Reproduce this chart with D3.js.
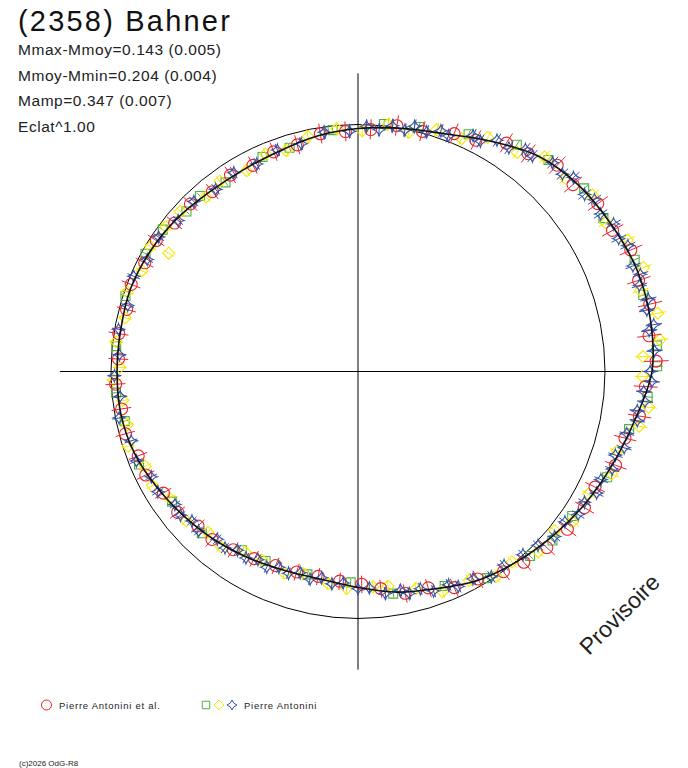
<!DOCTYPE html>
<html>
<head>
<meta charset="utf-8">
<script src="https://cdn.jsdelivr.net/npm/d3@7"></script>
<style>
  body { margin: 0; background: #fff; }
  svg { display: block; font-family: "Liberation Sans", Arial, sans-serif; }
</style>
</head>
<body>
<svg id="chart" width="688" height="768"></svg>
<script>
// rotation phase in degrees, magnitude relative to Mmoy
var fitDeg = [0,10,20,30,40,50,60,70,80,90,100,110,120,130,140,150,160,170,180,190,200,210,220,230,240,250,260,270,280,290,300,310,320,330,340,350];
var fitMag = [0.018,0.000,-0.026,-0.080,-0.140,-0.170,-0.185,-0.200,-0.200,-0.189,-0.140,-0.101,-0.068,-0.035,-0.004,0.027,0.073,0.106,0.146,0.171,0.166,0.146,0.121,0.096,0.068,0.040,0.027,0.027,0.027,0.022,0.031,0.045,0.063,0.068,0.059,0.036];

// Pierre Antonini et al.
var etalDeg = [3,9,15,22,27,33,38,44,49,55,61,66,72,77,83,88,93,99,104,110,116,121,127,133,139,144,150,156,162,168,174,179,185,191,197,203,209,215,221,226,232,238,244,249,255,261,267,273,279,285,291,297,303,309,315,321,327,333,339,345,351,357];
var etalMag = [0.021,-0.008,-0.007,-0.041,-0.054,-0.106,-0.122,-0.162,-0.155,-0.184,-0.178,-0.206,-0.193,-0.209,-0.186,-0.205,-0.166,-0.155,-0.117,-0.113,-0.071,-0.073,-0.065,-0.048,-0.025,-0.002,0.033,0.047,0.089,0.093,0.134,0.162,0.174,0.183,0.178,0.172,0.156,0.138,0.113,0.114,0.083,0.080,0.049,0.052,0.028,0.034,0.019,0.032,0.021,0.033,0.018,0.034,0.029,0.050,0.045,0.071,0.058,0.071,0.053,0.056,0.028,0.030];

// Pierre Antonini, three sessions
var sqDeg = [6,14,25,35,42,51,58,68,75,85,89,95,102,113,124,131,137,148,158,171,182,194,206,213,224,235,247,258,265,276,288,299,306,313,318,325,336,343,354];
var sqMag = [-0.008,-0.022,-0.063,-0.124,-0.154,-0.178,-0.172,-0.205,-0.194,-0.211,-0.208,-0.177,-0.125,-0.099,-0.049,-0.046,-0.023,0.015,0.071,0.102,0.171,0.181,0.172,0.160,0.102,0.092,0.041,0.038,0.018,0.017,0.011,0.018,0.025,0.056,0.049,0.073,0.055,0.059,0.019];

var diaDeg = [1,7,12,18,24,29,36,41,47,53,59,64,70,74,79,84,87,91,97,101,107,112,118,125,129,135,141,146,152,159,165,172,176,183,188,195,200,207,212,218,223,229,236,241,246,252,257,263,268,271,277,283,289,295,301,302,307,312,319,324,331,337,342,348,355];
var diaMag = [0.028,-0.009,0.010,-0.031,-0.034,-0.087,-0.100,-0.153,-0.149,-0.187,-0.170,-0.211,-0.225,-0.188,-0.230,-0.224,-0.157,-0.154,-0.185,-0.161,-0.101,-0.112,-0.060,-0.064,-0.026,-0.035,0.009,-0.001,0.046,0.050,0.104,0.142,0.146,0.139,0.154,0.179,0.152,0.168,0.161,0.114,0.126,0.089,0.093,0.053,0.064,0.023,0.046,0.045,0.011,0.039,0.015,0.036,0.013,0.038,0.022,0.110,0.029,0.035,0.071,0.053,0.079,0.048,0.066,0.031,0.015];

var starDeg = [2,5,8,11,13,16,19,21,26,28,31,34,37,39,43,46,48,52,54,57,60,63,65,69,71,73,76,78,81,82,86,90,92,94,96,98,100,103,106,108,111,114,117,120,123,126,130,134,138,143,147,151,155,157,161,164,167,169,173,177,180,184,187,190,193,196,199,202,205,208,211,214,217,220,225,228,231,234,239,243,248,253,259,264,269,274,280,286,293,298,304,310,316,322,328,334,340,346,352,358];
var starMag = [0.008,0.019,-0.005,0.005,-0.020,-0.010,-0.033,-0.023,-0.066,-0.059,-0.096,-0.096,-0.129,-0.125,-0.157,-0.152,-0.174,-0.165,-0.183,-0.171,-0.193,-0.184,-0.203,-0.191,-0.206,-0.190,-0.208,-0.194,-0.209,-0.189,-0.201,-0.182,-0.189,-0.161,-0.169,-0.144,-0.150,-0.120,-0.124,-0.099,-0.106,-0.080,-0.088,-0.062,-0.066,-0.038,-0.042,-0.014,0.002,0.019,0.010,0.044,0.044,0.069,0.067,0.096,0.088,0.111,0.108,0.142,0.139,0.166,0.156,0.179,0.160,0.179,0.159,0.170,0.146,0.160,0.138,0.148,0.121,0.131,0.099,0.109,0.085,0.095,0.061,0.068,0.036,0.044,0.016,0.035,0.015,0.035,0.017,0.033,0.015,0.037,0.029,0.055,0.048,0.072,0.057,0.073,0.051,0.055,0.024,0.030];

var statLines = ["Mmax-Mmoy=0.143 (0.005)", "Mmoy-Mmin=0.204 (0.004)", "Mamp=0.347 (0.007)", "Eclat^1.00"];

var svg = d3.select("#chart");
var cx = 358, cy = 371.5, R0 = 247;

var aScale = d3.scaleLinear().domain([0, 360]).range([0, 2 * Math.PI]);
var rScale = d3.scaleLinear().domain([0, 1]).range([0, R0]);   // relative flux -> px
function rad(m) { return rScale(Math.pow(10, -0.4 * m)); }
function pos(deg, m) { return d3.pointRadial(aScale(deg), rad(m)); }

svg.append("rect").attr("width", 688).attr("height", 768).attr("fill", "#fff");

svg.append("text")
    .attr("x", 18).attr("y", 31)
    .attr("font-size", 29).attr("letter-spacing", 2.2).attr("fill", "#111")
    .text("(2358) Bahner");

svg.selectAll(".stat").data(statLines).enter().append("text")
    .attr("class", "stat")
    .attr("x", 18).attr("y", function(d, i) { return 55 + i * 25.5; })
    .attr("font-size", 15.5).attr("letter-spacing", 0.55).attr("fill", "#222")
    .text(function(d) { return d; });

var main = svg.append("g").attr("transform", "translate(" + [cx, cy] + ")");

var L = rScale(1.207);
main.append("line").attr("x1", -L).attr("x2", L).attr("y1", 0).attr("y2", 0)
    .attr("stroke", "#000").attr("stroke-width", 1);
main.append("line").attr("y1", -L).attr("y2", L).attr("x1", 0).attr("x2", 0)
    .attr("stroke", "#000").attr("stroke-width", 1);
main.append("circle").attr("r", rScale(1))
    .attr("fill", "none").attr("stroke", "#000").attr("stroke-width", 1);

// marker shapes
var diamondPath = "M0,-6L6,0L0,6L-6,0Z";
var sqPath = d3.symbol(d3.symbolSquare, 81)();
function starPath(h) {
    var c = h * 0.22;
    return "M0," + (-h) + "Q" + c + "," + (-c) + " " + h + ",0Q" + c + "," + c + " 0," + h +
        "Q" + (-c) + "," + c + " " + (-h) + ",0Q" + (-c) + "," + (-c) + " 0," + (-h) + "Z";
}

function drawSeries(degs, mags, color, err, shape) {
    var g = main.append("g");
    var pts = degs.map(function(d, i) { return {deg: d, mag: mags[i]}; });
    g.selectAll("line").data(pts).enter().append("line")
        .attr("x1", function(d) { return pos(d.deg, d.mag - err)[0]; })
        .attr("y1", function(d) { return pos(d.deg, d.mag - err)[1]; })
        .attr("x2", function(d) { return pos(d.deg, d.mag + err)[0]; })
        .attr("y2", function(d) { return pos(d.deg, d.mag + err)[1]; })
        .attr("stroke", color).attr("stroke-width", 1);
    var m = g.selectAll("g.m").data(pts).enter().append("g")
        .attr("class", "m")
        .attr("transform", function(d) { return "translate(" + pos(d.deg, d.mag) + ")"; });
    shape(m, color);
}

function circleShape(sel, color) {
    sel.append("circle").attr("r", 6).attr("fill", "none").attr("stroke", color).attr("stroke-width", 1.1);
}
function pathShape(p) {
    return function(sel, color) {
        sel.append("path").attr("d", p).attr("fill", "none").attr("stroke", color).attr("stroke-width", 1.1);
    };
}

drawSeries(sqDeg, sqMag, "#4fb043", 0.02, pathShape(sqPath));
drawSeries(diaDeg, diaMag, "#f6e800", 0.03, pathShape(diamondPath));
drawSeries(etalDeg, etalMag, "#e8262c", 0.045, circleShape);
drawSeries(starDeg, starMag, "#3552a6", 0.03, pathShape(starPath(6)));

// fitted lightcurve
var fit = fitDeg.map(function(d, i) { return [aScale(d), rad(fitMag[i])]; });
main.append("path")
    .attr("d", d3.lineRadial().curve(d3.curveCatmullRomClosed)(fit))
    .attr("fill", "none").attr("stroke", "#111").attr("stroke-width", 1.6);

// legend
var leg = svg.append("g").attr("font-size", 9.5).attr("letter-spacing", 0.75).attr("fill", "#222");
leg.append("circle").attr("cx", 46.5).attr("cy", 705).attr("r", 5)
    .attr("fill", "none").attr("stroke", "#e8262c");
leg.append("text").attr("x", 59).attr("y", 708.5).text("Pierre Antonini et al.");
leg.append("path").attr("transform", "translate(206,705)").attr("d", d3.symbol(d3.symbolSquare, 56)())
    .attr("fill", "none").attr("stroke", "#4fb043");
leg.append("path").attr("transform", "translate(219,705)").attr("d", "M0,-5L5,0L0,5L-5,0Z")
    .attr("fill", "none").attr("stroke", "#f6e800");
leg.append("path").attr("transform", "translate(232,705)").attr("d", starPath(5))
    .attr("fill", "none").attr("stroke", "#3552a6");
leg.append("text").attr("x", 244).attr("y", 708.5).text("Pierre Antonini");

svg.append("text").attr("x", 19).attr("y", 766)
    .attr("font-size", 8).attr("fill", "#222")
    .text("(c)2026 OdG-R8");

svg.append("text")
    .attr("transform", "translate(589,656) rotate(-45)")
    .attr("font-size", 23).attr("fill", "#222")
    .text("Provisoire");
</script>
</body>
</html>
